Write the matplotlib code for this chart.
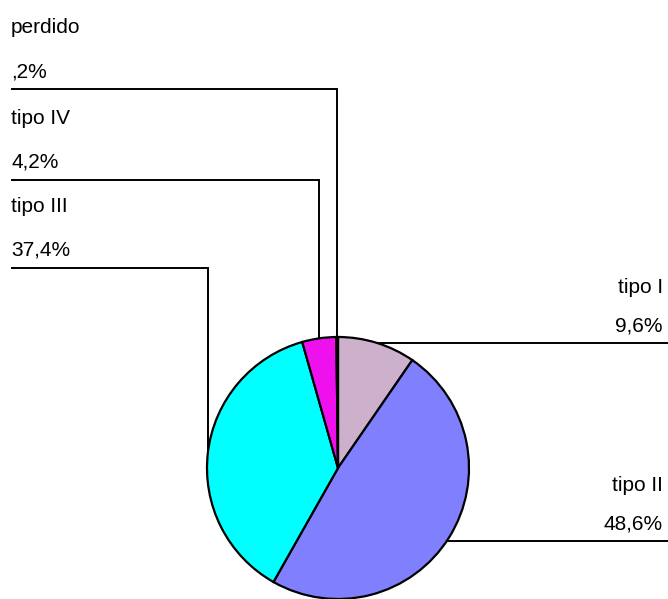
import numpy as np
import matplotlib.pyplot as plt

plt.rcParams["font.family"] = ["Liberation Sans", "DejaVu Sans"]

# Distribution by type (percent)
labels = ["tipo I", "tipo II", "tipo III", "tipo IV", "perdido"]
values = [9.6, 48.6, 37.4, 4.2, 0.2]
colors = ["#ccb0cc", "#8080ff", "#00ffff", "#ee11ee", "#3c3cff"]

W, H = 668, 599
fig = plt.figure(figsize=(W / 100, H / 100), dpi=100)
ax = fig.add_axes([0, 0, 1, 1])

cx, cy, r = 338, H - 468, 131
wedges, _ = ax.pie(values, colors=colors, startangle=90, counterclock=False,
                   center=(cx, cy), radius=r, frame=True,
                   wedgeprops=dict(edgecolor="black", linewidth=1.6))
ax.set_xlim(0, W)
ax.set_ylim(0, H)
ax.set_aspect("equal")
ax.axis("off")


def fmt(v):
    s = f"{v:.1f}".replace(".", ",")
    if s.startswith("0"):
        s = s[1:]
    return s + "%"


# height of each horizontal leader, pixels from the top
left_rows = {"perdido": 89, "tipo IV": 180, "tipo III": 268}
right_rows = {"tipo I": 343, "tipo II": 541}
fs = 15
lw = 1.4

for w, lab, v in zip(wedges, labels, values):
    mid = np.deg2rad((w.theta1 + w.theta2) / 2)
    px = cx + r * np.cos(mid)
    py = cy + r * np.sin(mid)
    if lab in left_rows:
        ly = H - left_rows[lab]
        ax.plot([12, px, px], [ly, ly, py], color="black", lw=lw,
                solid_joinstyle="miter")
        ax.text(11, ly + 12, fmt(v), fontsize=fs, ha="left", va="baseline")
        ax.text(11, ly + 56, lab, fontsize=fs, ha="left", va="baseline")
    else:
        ly = H - right_rows[lab]
        ex = cx + np.sqrt(r ** 2 - (ly - cy) ** 2)
        ax.plot([ex, W], [ly, ly], color="black", lw=lw)
        ax.text(W - 5, ly + 12, fmt(v), fontsize=fs, ha="right", va="baseline")
        ax.text(W - 5, ly + 50, lab, fontsize=fs, ha="right", va="baseline")

fig.savefig("out.png", dpi=100)
